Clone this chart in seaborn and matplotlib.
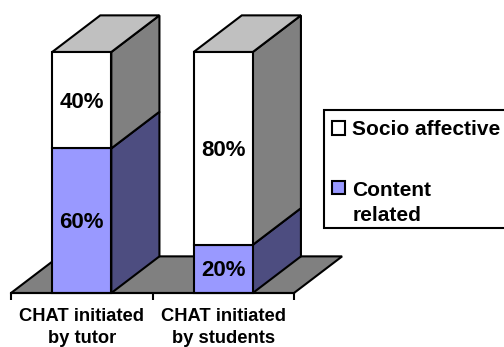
# 3D-looking stacked bars, built on seaborn bars with side faces added
import matplotlib
matplotlib.use('Agg')
import matplotlib.pyplot as plt
from matplotlib.patches import Polygon, Patch, Rectangle
import seaborn as sns

categories = ['CHAT initiated\nby tutor', 'CHAT initiated\nby students']
content_related = [60, 20]
socio_affective = [40, 80]
legend_labels = ['Socio affective', 'Content\nrelated']

sns.set_style('white')
plt.rcParams['font.family'] = ['Liberation Sans', 'DejaVu Sans']
plt.rcParams['font.weight'] = 'bold'
plt.rcParams['text.color'] = 'black'
plt.rcParams['xtick.color'] = 'black'

purple = '#9999FF'
purple_dark = '#4D4D80'
grey_side = '#808080'
grey_top = '#C0C0C0'
line_w = 1.5

# depth of the fake 3D in data units
depth_x = 0.34
depth_y = 15.2

fig = plt.figure(figsize=(5.04, 3.47), dpi=100)
ax = fig.add_axes([11 / 504, (347 - 293) / 347, 283 / 504, 241 / 347])

sns.barplot(x=categories, y=content_related, color=purple, saturation=1, width=0.418,
            edgecolor='black', linewidth=line_w, ax=ax, zorder=3)
sns.barplot(x=categories, y=socio_affective, bottom=content_related, color='white', saturation=1,
            width=0.418, edgecolor='black', linewidth=line_w, ax=ax, zorder=3)

ax.set_xlim(-0.5, 1.5)
ax.set_ylim(0, 100)

# floor
ax.add_patch(Polygon([(-0.5, 0), (1.5, 0), (1.5 + depth_x, depth_y), (-0.5 + depth_x, depth_y)],
                     facecolor=grey_side, edgecolor='black', lw=line_w, clip_on=False, zorder=1))

# side and top faces from the drawn bars
for bars, side in zip(ax.containers, [purple_dark, grey_side]):
    for bar in bars:
        x1 = bar.get_x() + bar.get_width()
        y0 = bar.get_y()
        y1 = y0 + bar.get_height()
        ax.add_patch(Polygon([(x1, y0), (x1 + depth_x, y0 + depth_y), (x1 + depth_x, y1 + depth_y), (x1, y1)],
                             facecolor=side, edgecolor='black', lw=line_w, clip_on=False, zorder=2))
for bar in ax.containers[1]:
    x0 = bar.get_x()
    x1 = x0 + bar.get_width()
    y1 = bar.get_y() + bar.get_height()
    ax.add_patch(Polygon([(x0, y1), (x1, y1), (x1 + depth_x, y1 + depth_y), (x0 + depth_x, y1 + depth_y)],
                         facecolor=grey_top, edgecolor='black', lw=line_w, clip_on=False, zorder=2))
for bar in ax.patches[:4]:
    bar.set_clip_on(False)

# percent labels
ax.bar_label(ax.containers[0], labels=[f'{v}%' for v in content_related], label_type='center',
             padding=-1.5, fontsize=16, fontweight='bold', color='black', zorder=5)
ax.bar_label(ax.containers[1], labels=[f'{v}%' for v in socio_affective], label_type='center',
             padding=-1.5, fontsize=16, fontweight='bold', color='black', zorder=5)

# axis
sns.despine(ax=ax, left=True, top=True, right=True)
ax.spines['bottom'].set_linewidth(line_w)
ax.spines['bottom'].set_color('black')
ax.spines['bottom'].set_zorder(4)
ax.set_yticks([])
ax.set_xticks([0, 1])
ax.set_xticklabels(categories, fontsize=13.2, fontweight='bold', linespacing=1.42)
ax.tick_params(axis='x', length=0, pad=10.5)
ax.set_xticks([-0.5, 0.5, 1.5], minor=True)
ax.tick_params(axis='x', which='minor', length=5, width=line_w, color='black', bottom=True)

# legend box runs past the right edge of the picture, so it is drawn on its own
fig.add_artist(Rectangle((324 / 504, 1 - 228 / 347), 190 / 504, 118 / 347, transform=fig.transFigure,
                         facecolor='white', edgecolor='black', lw=line_w))
handles = [Patch(facecolor='white', edgecolor='black', lw=line_w),
           Patch(facecolor=purple, edgecolor='black', lw=line_w)]
leg = fig.legend(handles, legend_labels, loc='upper left', bbox_to_anchor=(322 / 504, 1 - 110 / 347),
                 borderaxespad=0, borderpad=0.5, labelspacing=2.0, handlelength=0.62, handleheight=0.62,
                 handletextpad=0.33, frameon=False,
                 prop={'family': ['Liberation Sans'], 'weight': 'bold', 'size': 15})
for t in leg.get_texts():
    t.set_linespacing(1.37)
# second marker sits on the first text line
second = leg.legend_handles[1]
second.set_y(second.get_y() + 11)

fig.savefig('out.png', dpi=100)
